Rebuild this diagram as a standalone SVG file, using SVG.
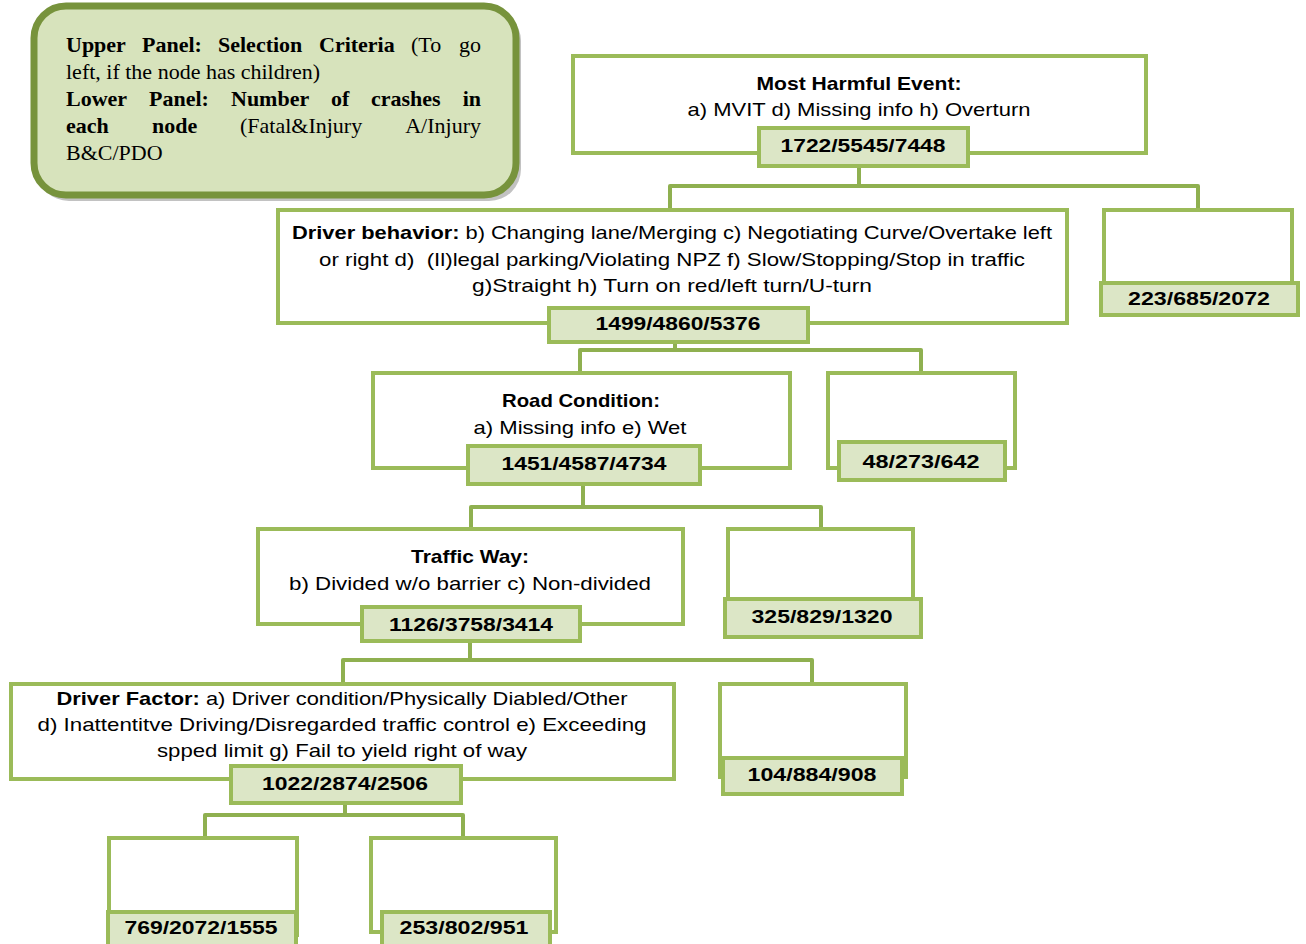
<svg xmlns="http://www.w3.org/2000/svg" width="1306" height="944" viewBox="0 0 1306 944">
<style>
.box{fill:#fff;stroke:#9BBB59;stroke-width:4}
.cnt{fill:#DCE6C6;stroke:#9BBB59;stroke-width:4}
.t{font-family:"Liberation Sans",Arial,sans-serif;font-size:19px;fill:#000;text-anchor:middle}
.b{font-weight:bold}
.lg{font-family:"Liberation Serif","Times New Roman",serif;font-size:22px;fill:#000}
.con{fill:none;stroke:#8FB050;stroke-width:4;stroke-linejoin:round}
</style>
<rect width="1306" height="944" fill="#fff"/>
<g id="legend">
<rect x="37" y="9" width="484" height="192" rx="32" fill="#9a9a9a" opacity="0.6"/>
<rect x="34" y="6" width="482" height="189" rx="32" fill="#D7E3BC" stroke="#77933C" stroke-width="7"/>
<text class="lg" y="52"><tspan x="66" font-weight="bold">Upper</tspan><tspan x="142" font-weight="bold">Panel:</tspan><tspan x="218" font-weight="bold">Selection</tspan><tspan x="319" font-weight="bold">Criteria</tspan><tspan x="411">(To</tspan><tspan x="481" text-anchor="end">go</tspan></text>
<text class="lg" x="66" y="79">left, if the node has children)</text>
<text class="lg" y="106" font-weight="bold"><tspan x="66">Lower</tspan><tspan x="149">Panel:</tspan><tspan x="231">Number</tspan><tspan x="331">of</tspan><tspan x="371">crashes</tspan><tspan x="481" text-anchor="end">in</tspan></text>
<text class="lg" y="133"><tspan x="66" font-weight="bold">each</tspan><tspan x="152" font-weight="bold">node</tspan><tspan x="240">(Fatal&amp;Injury</tspan><tspan x="481" text-anchor="end">A/Injury</tspan></text>
<text class="lg" x="66" y="160">B&amp;C/PDO</text>
</g>
<g id="connectors">
<path class="con" d="M859,167 V186 M670,210 V186 H1198 V210"/>
<path class="con" d="M675,342 V350 M580,372 V350 H921 V372"/>
<path class="con" d="M583,484 V507 M471,528 V507 H821 V528"/>
<path class="con" d="M470,641 V660 M343,683 V660 H812 V683"/>
<path class="con" d="M345,803 V815 M205,837 V815 H463 V837"/>
</g>
<g id="n1">
<rect class="box" x="573" y="56" width="573" height="97"/>
<text class="t b" x="859" y="90" textLength="205" lengthAdjust="spacingAndGlyphs">Most Harmful Event:</text>
<text class="t" x="859" y="116" textLength="343" lengthAdjust="spacingAndGlyphs">a) MVIT d) Missing info h) Overturn</text>
<rect class="cnt" x="759" y="128" width="209" height="38"/>
<text class="t b" x="863" y="152" textLength="165" lengthAdjust="spacingAndGlyphs">1722/5545/7448</text>
</g>
<g id="n2">
<rect class="box" x="278" y="210" width="789" height="113"/>
<text class="t" x="672" y="239" textLength="760" lengthAdjust="spacingAndGlyphs"><tspan class="b">Driver behavior:</tspan> b) Changing lane/Merging c) Negotiating Curve/Overtake left</text>
<text class="t" x="672" y="266" textLength="706" lengthAdjust="spacingAndGlyphs" xml:space="preserve">or right d)  (Il)legal parking/Violating NPZ f) Slow/Stopping/Stop in traffic</text>
<text class="t" x="672" y="292" textLength="400" lengthAdjust="spacingAndGlyphs">g)Straight h) Turn on red/left turn/U-turn</text>
<rect class="cnt" x="549" y="308" width="259" height="34"/>
<text class="t b" x="678" y="330" textLength="165" lengthAdjust="spacingAndGlyphs">1499/4860/5376</text>
</g>
<g id="n2r">
<rect class="box" x="1104" y="210" width="188" height="90"/>
<rect class="cnt" x="1101" y="283" width="197" height="32"/>
<text class="t b" x="1199" y="305" textLength="142" lengthAdjust="spacingAndGlyphs">223/685/2072</text>
</g>
<g id="n3">
<rect class="box" x="373" y="373" width="417" height="95"/>
<text class="t b" x="581" y="407" textLength="158" lengthAdjust="spacingAndGlyphs">Road Condition:</text>
<text class="t" x="580" y="434" textLength="213" lengthAdjust="spacingAndGlyphs">a) Missing info e) Wet</text>
<rect class="cnt" x="468" y="446" width="232" height="38"/>
<text class="t b" x="584" y="470" textLength="165" lengthAdjust="spacingAndGlyphs">1451/4587/4734</text>
</g>
<g id="n3r">
<rect class="box" x="828" y="373" width="187" height="95"/>
<rect class="cnt" x="839" y="442" width="166" height="38"/>
<text class="t b" x="921" y="468" textLength="117" lengthAdjust="spacingAndGlyphs">48/273/642</text>
</g>
<g id="n4">
<rect class="box" x="258" y="529" width="425" height="95"/>
<text class="t b" x="470" y="563" textLength="118" lengthAdjust="spacingAndGlyphs">Traffic Way:</text>
<text class="t" x="470" y="590" textLength="362" lengthAdjust="spacingAndGlyphs">b) Divided w/o barrier c) Non-divided</text>
<rect class="cnt" x="362" y="607" width="218" height="34"/>
<text class="t b" x="471" y="631" textLength="164" lengthAdjust="spacingAndGlyphs">1126/3758/3414</text>
</g>
<g id="n4r">
<rect class="box" x="728" y="529" width="185" height="90"/>
<rect class="cnt" x="725" y="599" width="196" height="38"/>
<text class="t b" x="822" y="623" textLength="141" lengthAdjust="spacingAndGlyphs">325/829/1320</text>
</g>
<g id="n5">
<rect class="box" x="11" y="684" width="663" height="95"/>
<text class="t" x="342" y="705" textLength="571" lengthAdjust="spacingAndGlyphs"><tspan class="b">Driver Factor:</tspan> a) Driver condition/Physically Diabled/Other</text>
<text class="t" x="342" y="731" textLength="609" lengthAdjust="spacingAndGlyphs">d) Inattentitve Driving/Disregarded traffic control e) Exceeding</text>
<text class="t" x="342" y="757" textLength="370" lengthAdjust="spacingAndGlyphs">spped limit g) Fail to yield right of way</text>
<rect class="cnt" x="231" y="766" width="230" height="37"/>
<text class="t b" x="345" y="790" textLength="166" lengthAdjust="spacingAndGlyphs">1022/2874/2506</text>
</g>
<g id="n5r">
<rect class="box" x="720" y="684" width="186" height="93"/>
<rect class="cnt" x="723" y="758" width="179" height="36"/>
<text class="t b" x="812" y="781" textLength="129" lengthAdjust="spacingAndGlyphs">104/884/908</text>
</g>
<g id="n6">
<rect class="box" x="109" y="838" width="188" height="97"/>
<rect class="cnt" x="108" y="912" width="188" height="34"/>
<text class="t b" x="201" y="934" textLength="153" lengthAdjust="spacingAndGlyphs">769/2072/1555</text>
</g>
<g id="n7">
<rect class="box" x="371" y="838" width="185" height="94"/>
<rect class="cnt" x="382" y="912" width="168" height="34"/>
<text class="t b" x="464" y="934" textLength="129" lengthAdjust="spacingAndGlyphs">253/802/951</text>
</g>
</svg>
